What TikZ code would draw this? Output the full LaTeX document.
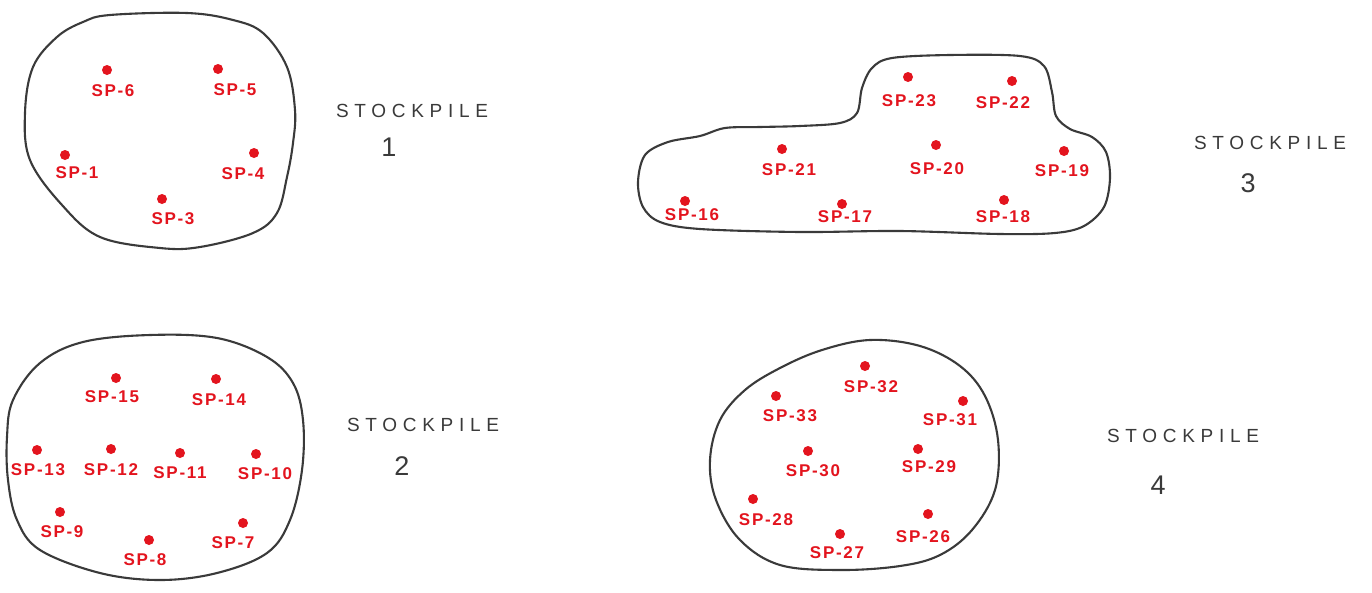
\documentclass[tikz,border=0pt]{standalone}
\usepackage{fontspec}
\setmainfont{Liberation Sans}
\newfontfamily\labfont[LetterSpace=10]{Liberation Sans}
\newfontfamily\titfont[LetterSpace=30]{Liberation Sans}
\definecolor{spred}{HTML}{E3141E}
\definecolor{pencil}{HTML}{3A3A3A}
\tikzset{
  outline/.style={draw=pencil, line width=2.1pt},
  spdot/.style={circle, fill=spred, inner sep=0pt, minimum size=10pt},
  splab/.style={text=spred, font=\labfont\bfseries\fontsize{17}{19}\selectfont, inner sep=0pt},
  title/.style={text=pencil, font=\titfont\fontsize{19}{21}\selectfont, inner sep=0pt},
  num/.style={text=pencil, font=\fontsize{27}{29}\selectfont, inner sep=0pt}
}
\begin{document}
\begin{tikzpicture}[x=1pt,y=-1pt]
\useasboundingbox (0,0) rectangle (1372,592);
\fill[white] (0,0) rectangle (1372,592);

% Stockpile 1
\draw[outline] plot[smooth cycle, tension=0.6] coordinates {
 (110,15) (187,13) (233,20) (263,33) (287,67) (295,110) (293,143) (287,177)
 (277,213) (253,233) (200,247) (160,248) (100,237) (62,205) (30,160) (25,113)
 (33,67) (57,37) (83,22)};
\node[spdot] (d6) at (107,70) {}; \node[splab] (l6) at (113,91) {SP-6};
\node[spdot] (d5) at (218,69) {}; \node[splab] (l5) at (235,90) {SP-5};
\node[spdot] (d1) at (65,155) {}; \node[splab] (l1) at (77,173) {SP-1};
\node[spdot] (d4) at (254,153) {}; \node[splab] (l4) at (243,174) {SP-4};
\node[spdot] (d3) at (162,199) {}; \node[splab] (l3) at (173,219) {SP-3};
\node[title] (t1) at (412,111) {STOCKPILE};
\node[num] (n1) at (389,147) {1};

% Stockpile 2
\draw[outline] plot[smooth cycle, tension=0.6] coordinates {
 (150,335) (217,338) (267,357) (293,383) (303,420) (302,470) (290,520)
 (267,553) (217,573) (160,580) (100,573) (40,550) (17,520) (8,480) (7,437)
 (13,400) (40,363) (83,342)};
\node[spdot] (d15) at (116,378) {}; \node[splab] (l15) at (112,397) {SP-15};
\node[spdot] (d14) at (216,379) {}; \node[splab] (l14) at (219,400) {SP-14};
\node[spdot] (d13) at (37,450) {}; \node[splab] (l13) at (38,470) {SP-13};
\node[spdot] (d12) at (111,449) {}; \node[splab] (l12) at (111,470) {SP-12};
\node[spdot] (d11) at (180,453) {}; \node[splab] (l11) at (180,473) {SP-11};
\node[spdot] (d10) at (256,454) {}; \node[splab] (l10) at (265,474) {SP-10};
\node[spdot] (d9) at (60,512) {}; \node[splab] (l9) at (62,532) {SP-9};
\node[spdot] (d8) at (149,540) {}; \node[splab] (l8) at (145,560) {SP-8};
\node[spdot] (d7) at (243,523) {}; \node[splab] (l7) at (233,543) {SP-7};
\node[title] (t2) at (423,425) {STOCKPILE};
\node[num] (n2) at (402,466) {2};

% Stockpile 3
\draw[outline] plot[smooth cycle, tension=0.55] coordinates {
 (638,182) (645,155) (668,142) (700,136) (725,128) (760,127) (800,126)
 (840,123) (857,113) (862,88) (872,68) (892,58) (950,55) (1020,56) (1044,66)
 (1052,92) (1056,116) (1070,129) (1092,137) (1106,152) (1110,178) (1104,207)
 (1084,226) (1055,233) (1000,234) (900,231) (800,232) (700,229) (660,222)
 (643,207)};
\node[spdot] (d23) at (908,77) {}; \node[splab] (l23) at (909,101) {SP-23};
\node[spdot] (d22) at (1012,81) {}; \node[splab] (l22) at (1003,103) {SP-22};
\node[spdot] (d21) at (782,149) {}; \node[splab] (l21) at (789,170) {SP-21};
\node[spdot] (d20) at (936,145) {}; \node[splab] (l20) at (937,169) {SP-20};
\node[spdot] (d19) at (1064,151) {}; \node[splab] (l19) at (1062,171) {SP-19};
\node[spdot] (d16) at (685,201) {}; \node[splab] (l16) at (692,215) {SP-16};
\node[spdot] (d17) at (842,204) {}; \node[splab] (l17) at (845,217) {SP-17};
\node[spdot] (d18) at (1004,200) {}; \node[splab] (l18) at (1003,217) {SP-18};
\node[title] (t3) at (1270,143) {STOCKPILE};
\node[num] (n3) at (1248,183) {3};

% Stockpile 4
\draw[outline] plot[smooth cycle, tension=0.6] coordinates {
 (870,340) (920,346) (960,366) (985,396) (998,440) (995,490) (972,530)
 (940,555) (900,566) (840,570) (780,565) (740,540) (716,500) (710,460)
 (720,420) (745,390) (780,368) (822,350)};
\node[spdot] (d32) at (865,366) {}; \node[splab] (l32) at (871,387) {SP-32};
\node[spdot] (d33) at (776,396) {}; \node[splab] (l33) at (790,416) {SP-33};
\node[spdot] (d31) at (963,401) {}; \node[splab] (l31) at (950,420) {SP-31};
\node[spdot] (d30) at (808,451) {}; \node[splab] (l30) at (813,471) {SP-30};
\node[spdot] (d29) at (918,449) {}; \node[splab] (l29) at (929,467) {SP-29};
\node[spdot] (d28) at (753,499) {}; \node[splab] (l28) at (766,520) {SP-28};
\node[spdot] (d27) at (840,534) {}; \node[splab] (l27) at (837,553) {SP-27};
\node[spdot] (d26) at (928,514) {}; \node[splab] (l26) at (923,537) {SP-26};
\node[title] (t4) at (1183,436) {STOCKPILE};
\node[num] (n4) at (1158,485) {4};
\end{tikzpicture}
\end{document}
